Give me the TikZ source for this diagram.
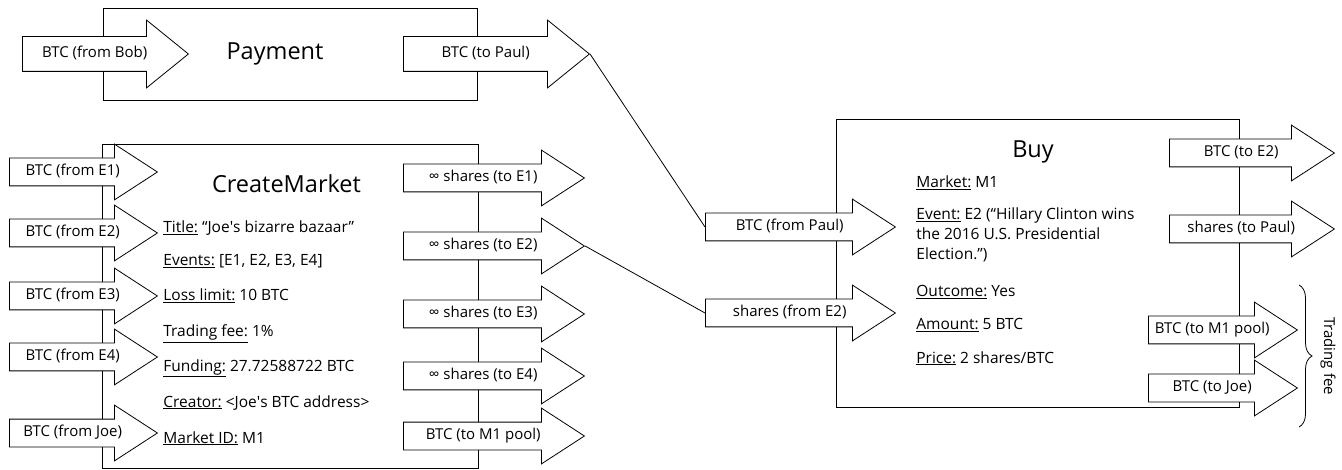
\documentclass[tikz,border=0pt]{standalone}
\usepackage{fontspec}
\setmainfont{Open Sans}
\usetikzlibrary{shapes.arrows,decorations.pathreplacing}

\begin{document}
\begin{tikzpicture}[x=1pt,y=-1pt,line width=0.8pt,
    proc/.style = {draw, rectangle, inner sep=0pt},
    proctitle/.style = {font=\fontsize{23.5}{28}\selectfont},
    flow/.style = {draw, fill=white, single arrow, anchor=tail, font=\fontsize{15}{18}\selectfont,
        text height=11pt, text depth=3.5pt, inner xsep=0pt, inner ysep=6.25pt,
        single arrow head extend=14pt, single arrow tip angle=66},
    bigflow/.style = {flow, inner ysep=9.75pt, single arrow head extend=16.5pt, single arrow tip angle=78},
    field/.style = {anchor=base west, inner sep=0pt, font=\fontsize{15.5}{20}\selectfont}]
    \useasboundingbox (0,0) rectangle (1342,470);

    \node[proc, minimum width=374, minimum height=92](pay) at (290,54){};
    \node[proctitle](paytitle) at (275,54){Payment};
    \node[bigflow, minimum height=166](frombob) at (22,54){BTC (from Bob)};
    \node[bigflow, minimum height=186](topaul) at (403,54){BTC (to Paul)};

    \node[proc, minimum width=376, minimum height=324](create) at (290,306){};
    \node[proctitle](createtitle) at (286.5,184){CreateMarket};
    \node[flow, minimum height=148](frome1) at (9,172){BTC (from E1)};
    \node[flow, minimum height=148](frome2) at (9,233){BTC (from E2)};
    \node[flow, minimum height=148](frome3) at (9,296){BTC (from E3)};
    \node[flow, minimum height=148](frome4) at (9,357){BTC (from E4)};
    \node[flow, minimum height=148](fromjoe) at (9,433){BTC (from Joe)};
    \node[field](title) at (163,233){\underline{Title:} “Joe\textquotesingle s bizarre bazaar”};
    \node[field](events) at (163,266){\underline{Events:} [E1, E2, E3, E4]};
    \node[field](loss) at (163,301){\underline{Loss limit:} 10 BTC};
    \node[field](fee) at (163,337){\underline{Trading fee:} 1\%};
    \node[field](funding) at (163,371){\underline{Funding:} 27.72588722 BTC};
    \node[field](creator) at (163,407){\underline{Creator:} <Joe\textquotesingle s BTC address>};
    \node[field](marketid) at (163,443){\underline{Market ID:} M1};
    \node[flow, minimum height=181](toe1) at (403,178){∞ shares (to E1)};
    \node[flow, minimum height=181](toe2) at (403,246){∞ shares (to E2)};
    \node[flow, minimum height=181](toe3) at (403,314){∞ shares (to E3)};
    \node[flow, minimum height=181](toe4) at (403,376){∞ shares (to E4)};
    \node[flow, minimum height=181](topool) at (403,436){BTC (to M1 pool)};

    \node[proc, minimum width=403, minimum height=288](buy) at (1037.5,263){};
    \node[proctitle](buytitle) at (1033,152){Buy};
    \node[flow, minimum height=190](frompaul) at (705,227){BTC (from Paul)};
    \node[flow, minimum height=190](fromshares) at (705,313){shares (from E2)};
    \node[field](market) at (916,188){\underline{Market:} M1};
    \node[field](event) at (916,220){\underline{Event:} E2 (“Hillary Clinton wins};
    \node[field](event2) at (916,240){the 2016 U.S. Presidential};
    \node[field](event3) at (916,260){Election.”)};
    \node[field](outcome) at (916,297){\underline{Outcome:} Yes};
    \node[field](amount) at (916,330){\underline{Amount:} 5 BTC};
    \node[field](price) at (916,363){\underline{Price:} 2 shares/BTC};
    \node[flow, minimum height=165](buytoe2) at (1169,153){BTC (to E2)};
    \node[flow, minimum height=165](buytopaul) at (1169,229){shares (to Paul)};
    \node[flow, minimum height=149](buytopool) at (1148,330){BTC (to M1 pool)};
    \node[flow, minimum height=149](buytojoe) at (1148,388){BTC (to Joe)};

    \draw (topaul.tip) -- (frompaul.tail);
    \draw (toe2.tip) -- (fromshares.tail);

    \coordinate (feetop) at (1299,285);
    \coordinate (feebot) at (1299,427);
    \draw[decorate, decoration={brace, amplitude=13pt}] (feetop) -- (feebot);
    \node[rotate=-90, font=\fontsize{15}{18}\selectfont](tradingfee) at (1328,356){Trading fee};
\end{tikzpicture}
\end{document}
